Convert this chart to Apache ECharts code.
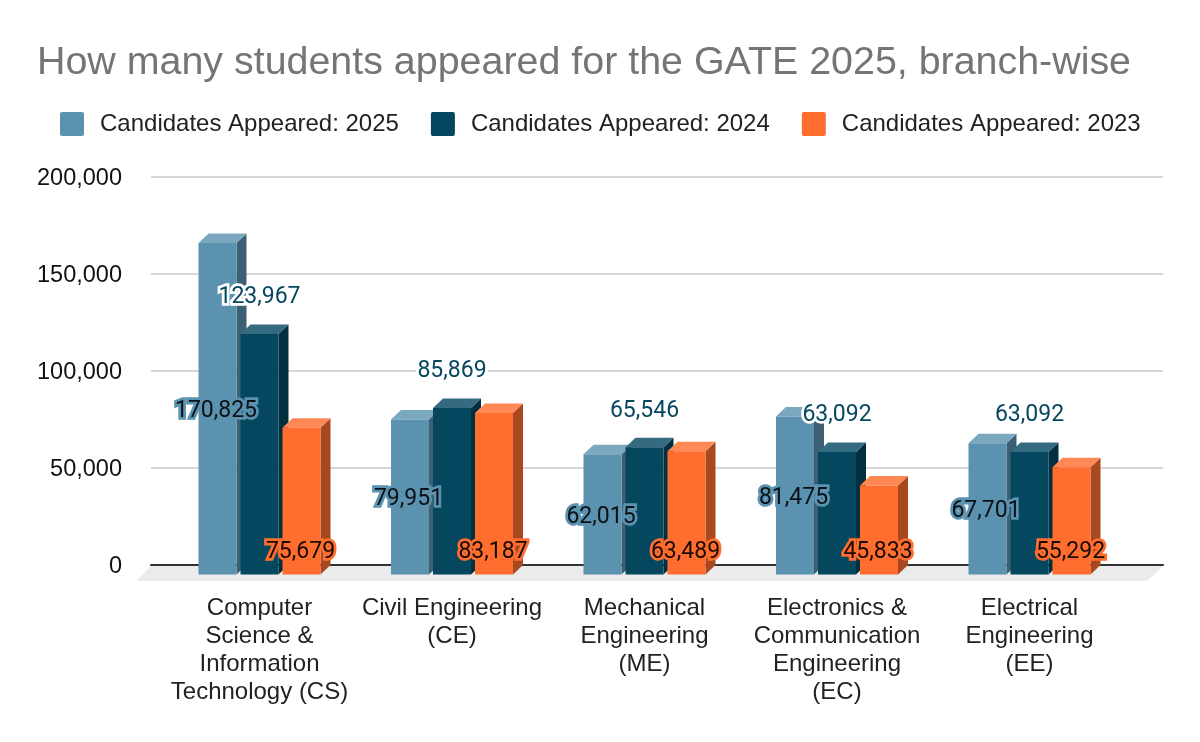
<!DOCTYPE html>
<html><head><meta charset="utf-8">
<style>html,body{margin:0;padding:0;background:#fff}#c{width:1200px;height:742px}</style>
<script src="https://cdn.jsdelivr.net/npm/echarts@6/dist/echarts.min.js"></script>
</head><body><div id="c"></div>
<script>
const categories = ['Computer\nScience &\nInformation\nTechnology (CS)','Civil Engineering\n(CE)','Mechanical\nEngineering\n(ME)','Electronics &\nCommunication\nEngineering\n(EC)','Electrical\nEngineering\n(EE)'];
const seriesNames = ['Candidates Appeared: 2025','Candidates Appeared: 2024','Candidates Appeared: 2023'];
const values2025 = [170825,79951,62015,81475,67701];
const values2024 = [123967,85869,65546,63092,63092];
const values2023 = [75679,83187,63489,45833,55292];
const yTicks = [0,50000,100000,150000,200000];
const allValues = [values2025,values2024,values2023];
const faces = [
  {front:'#5b92b0',side:'#3c5f73',top:'#7ca8bf'},
  {front:'#05475f',side:'#032f3f',top:'#356b80'},
  {front:'#ff6d2f',side:'#a7481f',top:'#ff8855'}
];
const labelStyles = [
  {fill:'#0b1215',stroke:'#5b92b0'},
  {fill:'#05475f',stroke:'#ffffff'},
  {fill:'#1a0a04',stroke:'#ff6d2f'}
];
const BAR=38,STEP=42,DX=10,DY=9.5,FIRST=-61;
const fmt=v=>v.toLocaleString('en-US');
function pts(a){return {points:a};}
function barSeries(s){
  return {type:'custom',name:seriesNames[s],xAxisIndex:1,yAxisIndex:1,z:2+s,
    itemStyle:{color:faces[s].front},
    data:categories.map((c,i)=>[i,allValues[s][i]]),
    encode:{x:0,y:1},
    clip:false,
    renderItem(params,api){
      const top=api.coord([api.value(0),api.value(1)]);
      const base=api.coord([api.value(0),0]);
      const x=top[0]+FIRST+s*STEP, yt=top[1]+DY, yb=base[1]+DY;
      const f=faces[s];
      return {type:'group',children:[
        {type:'polygon',shape:pts([[x+BAR,yt],[x+BAR+DX,yt-DY],[x+BAR+DX,yb-DY],[x+BAR,yb]]),style:{fill:f.side}},
        {type:'polygon',shape:pts([[x,yt],[x+DX,yt-DY],[x+BAR+DX,yt-DY],[x+BAR,yt]]),style:{fill:f.top}},
        {type:'rect',shape:{x:x,y:yt,width:BAR,height:yb-yt},style:{fill:f.front}}
      ]};
    }};
}
function labelSeries(s){
  return {type:'custom',name:'labels '+seriesNames[s],xAxisIndex:1,yAxisIndex:1,z:10+s,silent:true,
    data:categories.map((c,i)=>[i,allValues[s][i]]),
    encode:{x:0,y:1},
    clip:false,
    renderItem(params,api){
      const v=api.value(1);
      const top=api.coord([api.value(0),v]);
      const base=api.coord([api.value(0),0]);
      const cx=top[0]+FIRST+s*STEP+BAR/2;
      let y;
      if(s===0) y=(top[1]+base[1])/2+DY+2.5;
      else if(s===1) y=top[1]-27;
      else y=base[1]-13;
      return {type:'text',style:{text:fmt(v),x:cx+(s===0?-1.5:s===2?-1:0),y:y,align:'center',verticalAlign:'middle',
        font:'23px Roboto',fill:labelStyles[s].fill,stroke:labelStyles[s].stroke,lineWidth:5.5,lineJoin:'round',strokeFirst:true}};
    }};
}
const floorSeries={type:'custom',name:'floor',xAxisIndex:0,yAxisIndex:0,z:1,silent:true,
  data:[[0,0]],clip:false,
  renderItem(params,api){
    const cs=params.coordSys, y=api.coord([0,0])[1]+1;
    const xl=cs.x, xr=cs.x+cs.width;
    return {type:'polygon',shape:pts([[xl,y],[xr,y],[xr-16,y+15],[xl-15,y+15]]),style:{fill:'#ebebeb'}};
  }};
const option={
  animation:false,
  backgroundColor:'#fff',
  title:{text:'How many students appeared for the GATE 2025, branch-wise',left:32,top:39,
    textStyle:{fontFamily:'Liberation Sans',fontSize:39.4,fontWeight:'normal',color:'#757575'}},
  legend:{data:seriesNames,left:55,top:107,itemWidth:24,itemHeight:24,itemGap:32,
    icon:'path://M2,0H22A2,2,0,0,1,24,2V22A2,2,0,0,1,22,24H2A2,2,0,0,1,0,22V2A2,2,0,0,1,2,0Z',
    textStyle:{fontFamily:'Liberation Sans',fontSize:24,color:'#222',padding:[0,0,0,11]}},
  grid:[
    {left:151,width:1012,top:177,height:388},
    {left:163.25,width:962.5,top:177,height:388}
  ],
  xAxis:[
    {type:'value',gridIndex:0,min:0,max:1,axisLabel:{show:false},axisTick:{show:false},splitLine:{show:false},
     axisLine:{show:true,onZero:true,lineStyle:{color:'#333',width:2}}},
    {type:'category',gridIndex:1,data:categories,axisLine:{show:false},axisTick:{show:false},
     axisLabel:{interval:0,margin:29,fontFamily:'Liberation Sans',fontSize:24,lineHeight:28,color:'#222',align:'center',verticalAlign:'top'}}
  ],
  yAxis:[
    {type:'value',gridIndex:0,min:0,max:200000,interval:50000,axisLine:{show:false},axisTick:{show:false},
     splitLine:{lineStyle:{color:'#c8c8c8',width:1.5}},
     axisLabel:{margin:29,fontFamily:'Liberation Sans',fontSize:23.5,color:'#111',verticalAlign:'top',lineHeight:4,formatter:v=>yTicks.includes(v)?fmt(v):''}},
    {type:'value',gridIndex:1,min:0,max:200000,interval:50000,show:false}
  ],
  series:[floorSeries].concat([0,1,2].map(barSeries),[0,1,2].map(labelSeries))
};
echarts.init(document.getElementById('c'),null,{renderer:'canvas'}).setOption(option);
</script></body></html>
